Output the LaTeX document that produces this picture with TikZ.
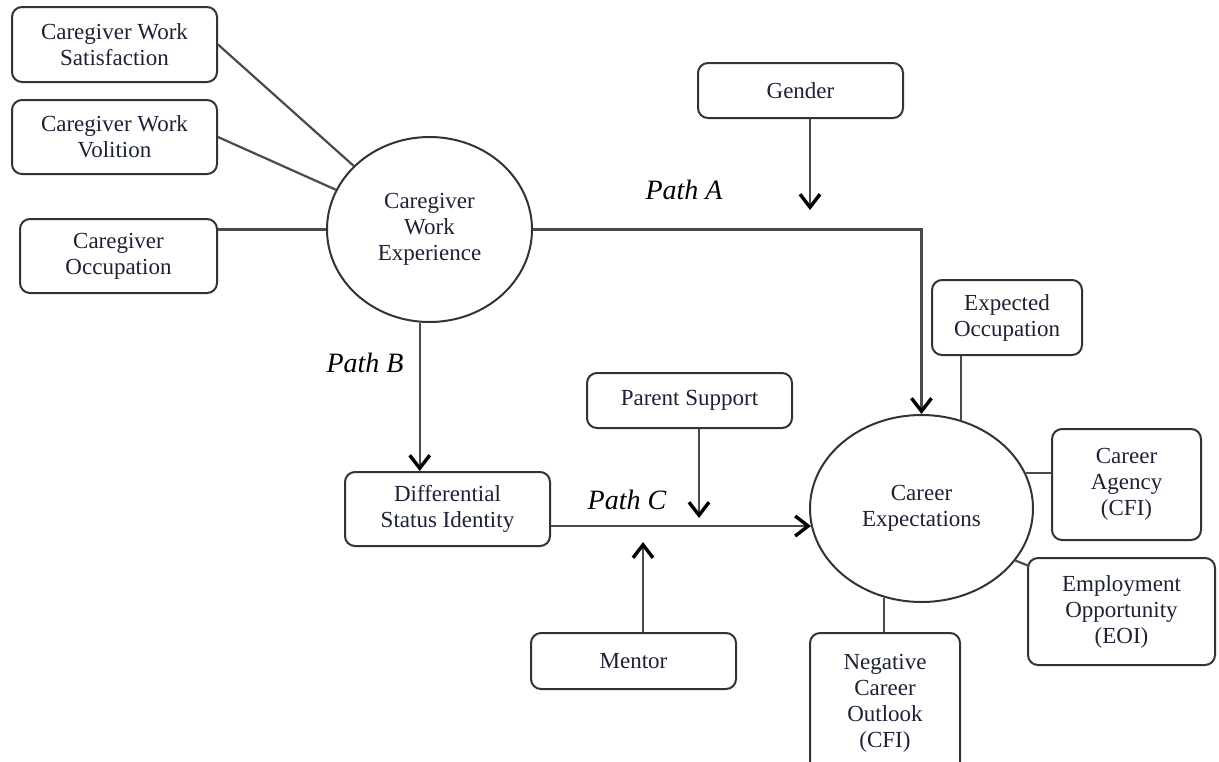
\documentclass[tikz,border=0pt]{standalone}
\usepackage{fontspec}
\setmainfont{Liberation Serif}
\usetikzlibrary{arrows.meta,shapes.geometric,calc}
\definecolor{inktext}{HTML}{1C2233}
\definecolor{rule}{HTML}{333333}
\definecolor{wirecol}{HTML}{4A4A4A}
\begin{document}
\begin{tikzpicture}[x=0.5pt,y=-0.5pt,
  labelfont/.style={font=\fontsize{11.5}{13}\selectfont, text=inktext},
  box/.style={draw=rule, line width=1pt, rounded corners=5pt, align=center,
              inner sep=0pt, labelfont},
  blob/.style={draw=rule, line width=1pt, ellipse, align=center,
               inner sep=0pt, labelfont},
  wire/.style={draw=wirecol, line width=1.1pt},
  flow/.style={wire, -{Straight Barb[length=6.5pt,width=10pt,line width=1.7pt,color=black]}},
  pathlbl/.style={font=\fontsize{14}{16}\selectfont\itshape, text=black}
]
\path[use as bounding box] (0,0) rectangle (1219,761);
\clip (0,0) rectangle (1219,761);

% caregiver side
\node[box, minimum width=102.5pt, minimum height=37.5pt] (sat) at (114.5,44.5) {Caregiver Work\\Satisfaction};
\node[box, minimum width=102.5pt, minimum height=37pt] (vol) at (114.5,137) {Caregiver Work\\Volition};
\node[box, minimum width=98.5pt, minimum height=37pt] (occ) at (118.5,256) {Caregiver\\Occupation};
\node[blob, minimum width=102.5pt, minimum height=92.5pt] (cw) at (429.5,229.5) {Caregiver\\Work\\Experience};

% moderators and mediator
\node[box, minimum width=102.5pt, minimum height=27.5pt] (gender) at (800.5,90.5) {Gender};
\node[box, minimum width=102.5pt, minimum height=37pt] (dsi) at (447.5,509) {Differential\\Status Identity};
\node[box, minimum width=102.5pt, minimum height=27.5pt] (ps) at (689.5,400.5) {Parent Support};
\node[box, minimum width=102.5pt, minimum height=28pt] (mentor) at (633.5,661) {Mentor};

% outcome and its indicators
\node[blob, minimum width=111.5pt, minimum height=93.5pt] (ce) at (921.5,508.5) {Career\\Expectations};
\node[box, minimum width=75pt, minimum height=37.5pt] (eo) at (1007,317.5) {Expected\\Occupation};
\node[box, minimum width=74.5pt, minimum height=55.5pt] (ca) at (1126.5,484.5) {Career\\Agency\\(CFI)};
\node[box, minimum width=93.5pt, minimum height=53.5pt] (emp) at (1121.5,611.5) {Employment\\Opportunity\\(EOI)};
\node[box, minimum width=75pt, minimum height=70pt] (neg) at (885,703) {Negative\\Career\\Outlook\\(CFI)};

% path labels
\node[pathlbl] (pa) at (684,190) {Path A};
\node[pathlbl] (pb) at (365,363) {Path B};
\node[pathlbl] (pc) at (627,500) {Path C};

% indicator links into the caregiver construct
\draw[wire] (sat.east) -- (cw.140);
\draw[wire] (vol.east) -- (cw.157);
\draw[wire] (cw.west) -- (cw.west -| occ.east);

% structural paths
\draw[flow] (cw.east) -| (ce.north);
\draw[flow] (cw.264.7) -- (cw.264.7 |- dsi.north);
\draw[flow] (dsi.east |- ce.189.6) -- (ce.189.6);

% moderator arrows
\coordinate (gtip) at (810,210);
\coordinate (ptip) at (699,518);
\coordinate (mtip) at (643,542);
\draw[flow] (gtip |- gender.south) -- (gtip);
\draw[flow] (ptip |- ps.south) -- (ptip);
\draw[flow] (mtip |- mentor.north) -- (mtip);

% indicator links out of career expectations
\draw[wire] (ce.66.9) -- (ce.66.9 |- eo.south);
\draw[wire] (ce.19) -- (ce.19 -| ca.west);
\draw[wire] (ce.-29) -- ($(emp.north west)+(2,9)$);
\draw[wire] (ce.247.5) -- (ce.247.5 |- neg.north);
\end{tikzpicture}
\end{document}
